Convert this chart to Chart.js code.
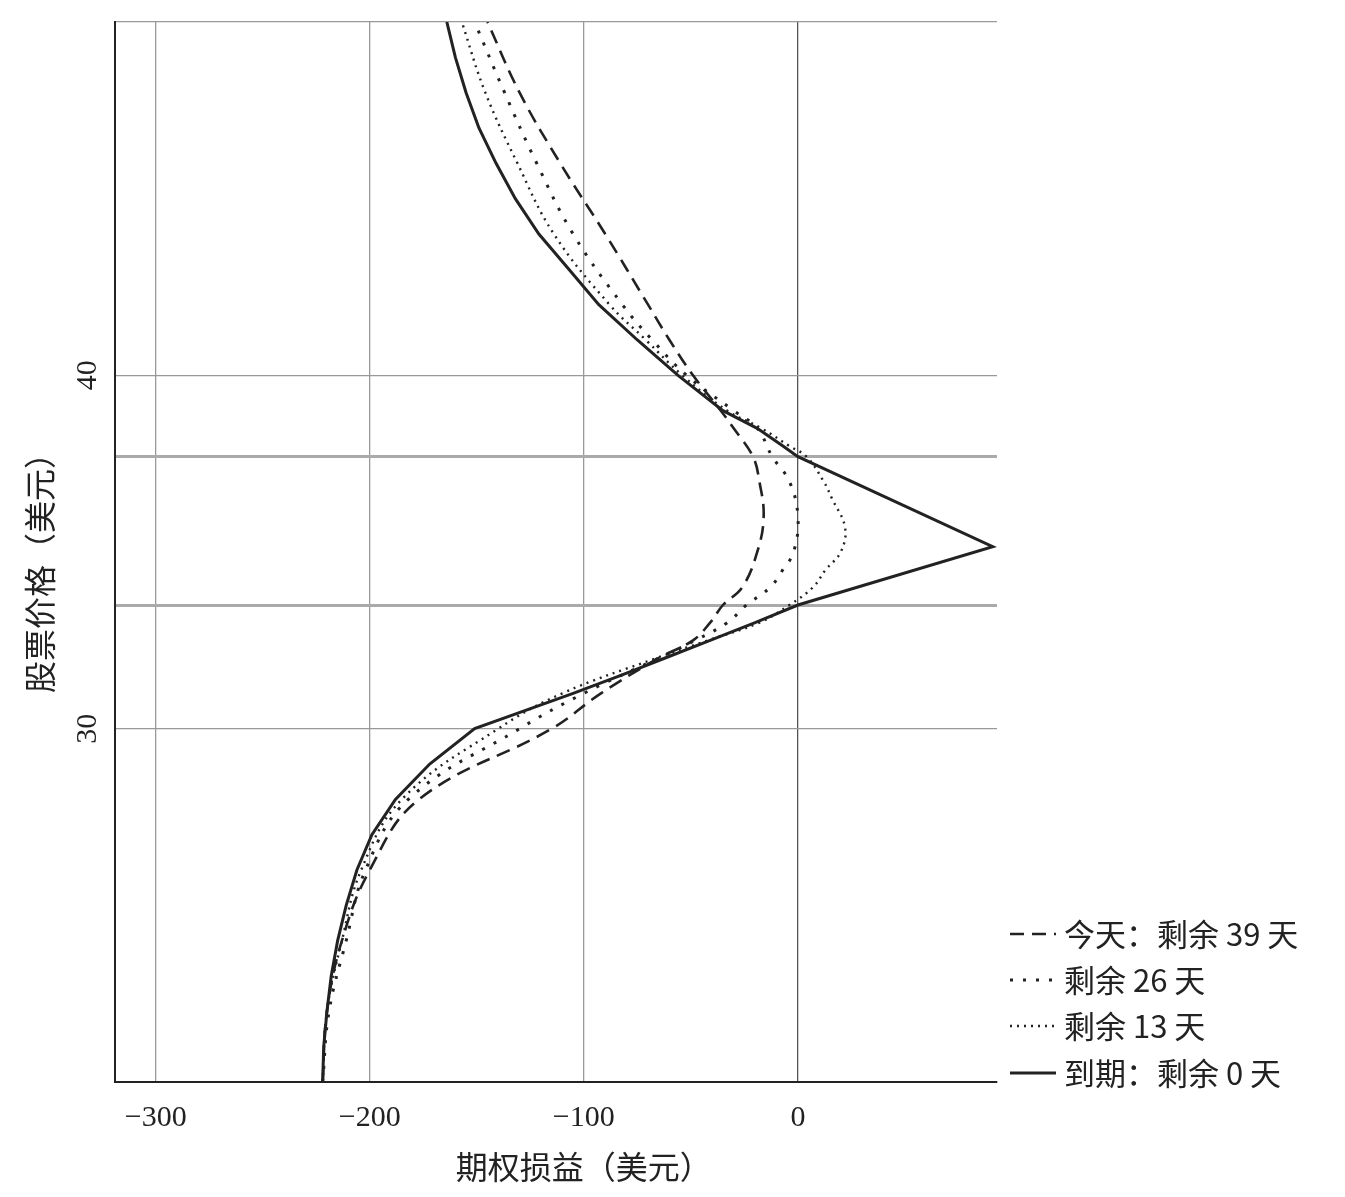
<!DOCTYPE html>
<html>
<head>
<meta charset="utf-8">
<script src="https://cdn.jsdelivr.net/npm/chart.js@4"></script>
<style>
  body { margin: 0; background: #fff; }
  #wrap { width: 1345px; height: 1197px; }
</style>
</head>
<body>
<div id="wrap"><canvas id="c"></canvas></div>
<script>
// --- Datos ---
const seriesNames = ['今天：剩余 39 天', '剩余 26 天', '剩余 13 天', '到期：剩余 0 天'];

const price39 = [20, 22, 24, 26, 28, 30, 31, 32, 32.5, 33, 33.5, 34, 35, 36, 37, 37.7, 38.5, 39, 40, 41, 42, 44, 46, 48, 50];
const pnl39   = [-222, -220, -213, -200, -177, -115, -92, -65, -49, -41, -35, -26, -19, -16, -18, -21, -30, -36, -49, -60, -70, -90, -111, -130, -145];

const price26 = [20, 22, 24, 26, 28, 30, 31, 32, 32.5, 33, 33.5, 34, 34.5, 35, 36, 37, 37.7, 38.5, 39, 40, 41, 42, 44, 46, 48, 50];
const pnl26   = [-222, -219, -211, -202, -182, -130, -100, -65, -48, -33, -24, -13, -7, -2, 0, -4, -12, -19, -30, -52, -68, -82, -105, -122, -137, -151];

const price13 = [20, 22, 24, 26, 28, 30, 31, 32, 32.5, 33, 33.5, 34, 34.5, 35, 35.7, 36.5, 37, 37.7, 38, 38.5, 39, 40, 41, 42, 44, 46, 48, 50];
const pnl13   = [-222, -220, -213, -204, -185, -140, -110, -66, -42, -18, -4, 7, 13, 20, 22, 16, 12, 4, -4, -17, -33, -54, -71, -88, -114, -131, -146, -157];

const price0 = [20, 21, 22, 23, 24, 25, 26, 27, 28, 29, 30, 31, 31.5, 32, 32.5, 33, 33.5, 35.15, 37.7, 38, 38.5, 39, 40, 41, 42, 43, 44, 45, 46, 47, 48, 49, 50];
const pnl0   = [-222, -221.5, -220, -218, -215, -211, -206, -199, -188, -172, -151, -105, -83, -62, -41, -20, 0, 91, 0, -7, -19, -35, -56, -75, -93, -107, -121, -132, -141, -149, -155, -160, -164];

const xTicks = [-300, -200, -100, 0];
const yTickLabels = [30, 40];
const breakevens = [33.5, 37.7];

const serif = '"Liberation Serif", "DejaVu Serif", serif';
const cjk = '"Noto Sans CJK SC", sans-serif';

function pts(prices, pnls) {
    return prices.map((p, i) => ({ x: pnls[i], y: p }));
}

const dashes = [[14, 8], [3, 10], [2, 5], []];
const widths = [2.6, 3, 2.4, 3];
const tensions = [0.4, 0.4, 0.4, 0];
const allData = [pts(price39, pnl39), pts(price26, pnl26), pts(price13, pnl13), pts(price0, pnl0)];

// --- Etiquetas del eje y, títulos y leyenda ---
const extras = {
    id: 'extras',
    afterDraw(chart) {
        const ctx = chart.ctx;
        const y = chart.scales.y;
        const x = chart.scales.x;
        ctx.save();
        ctx.fillStyle = '#222';
        ctx.font = '30px ' + serif;
        ctx.textAlign = 'center';
        ctx.textBaseline = 'middle';
        yTickLabels.forEach(v => {
            ctx.save();
            ctx.translate(88, y.getPixelForValue(v));
            ctx.rotate(-Math.PI / 2);
            ctx.fillText(String(v), 0, 0);
            ctx.restore();
        });
        ctx.font = '32px ' + cjk;
        ctx.save();
        ctx.translate(40, 565);
        ctx.rotate(-Math.PI / 2);
        ctx.fillText('股票价格（美元）', 0, 0);
        ctx.restore();
        ctx.fillText('期权损益（美元）', x.getPixelForValue(-100), 1167);

        // leyenda
        ctx.textAlign = 'left';
        ctx.font = '31px ' + cjk;
        const ly = [934, 980, 1026, 1073];
        chart.data.datasets.forEach((ds, i) => {
            ctx.beginPath();
            ctx.setLineDash(dashes[i]);
            ctx.lineWidth = widths[i];
            ctx.strokeStyle = '#222';
            ctx.moveTo(1010, ly[i]);
            ctx.lineTo(1056, ly[i]);
            ctx.stroke();
            ctx.fillText(ds.label, 1064, ly[i]);
        });
        ctx.restore();
    }
};

const ctx = document.getElementById('c').getContext('2d');
new Chart(ctx, {
    type: 'scatter',
    data: {
        datasets: allData.map((d, i) => ({
            label: seriesNames[i],
            data: d,
            showLine: true,
            borderColor: '#222',
            borderWidth: widths[i],
            borderDash: dashes[i],
            tension: tensions[i],
            pointRadius: 0
        }))
    },
    options: {
        responsive: true,
        maintainAspectRatio: false,
        animation: false,
        layout: { padding: { top: 22, right: 348, left: 0, bottom: 0 } },
        plugins: { legend: { display: false }, tooltip: { enabled: false } },
        scales: {
            x: {
                type: 'linear', min: -319, max: 93,
                afterFit: s => { s.height = 115; },
                afterBuildTicks: s => { s.ticks = xTicks.map(v => ({ value: v })); },
                border: { color: '#222', width: 2 },
                grid: {
                    color: c => c.tick && c.tick.value === 0 ? '#555' : '#999',
                    lineWidth: 1.3,
                    drawTicks: false
                },
                ticks: {
                    color: '#222', padding: 18,
                    font: { family: serif, size: 30 },
                    callback: v => v < 0 ? '\u2212' + Math.abs(v) : String(v)
                }
            },
            y: {
                type: 'linear', min: 20, max: 50,
                afterFit: s => { s.width = 115; },
                afterBuildTicks: s => {
                    s.ticks = [20, 30, 40, 50].concat(breakevens).map(v => ({ value: v }));
                },
                border: { color: '#222', width: 2 },
                grid: {
                    color: c => c.tick && breakevens.includes(c.tick.value) ? '#aaa' : '#999',
                    lineWidth: c => c.tick && breakevens.includes(c.tick.value) ? 3 : 1.3,
                    drawTicks: false
                },
                ticks: { display: false }
            }
        }
    },
    plugins: [extras]
});
</script>
</body>
</html>
